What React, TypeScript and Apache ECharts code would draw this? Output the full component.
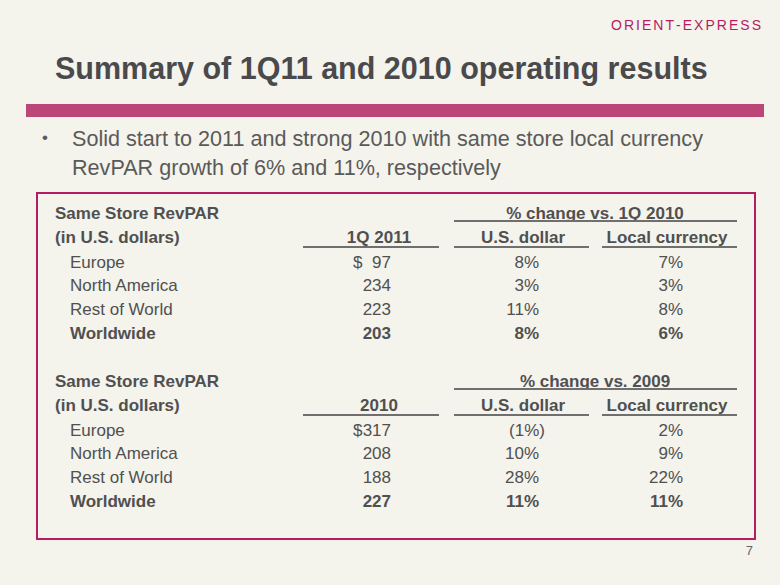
import React, { useEffect, useRef } from 'react';
import * as echarts from 'echarts';

// ---- data ----
const regions = ['Europe', 'North America', 'Rest of World', 'Worldwide'];
const revpar1Q2011 = [97, 234, 223, 203];
const usdChange1Q = [8, 3, 11, 8];
const localChange1Q = [7, 3, 8, 6];
const revpar2010 = [317, 208, 188, 227];
const usdChange2010 = [-1, 10, 28, 11];
const localChange2010 = [2, 9, 22, 11];

const titleText = 'Summary of 1Q11 and 2010 operating results';
const bulletLines = [
  'Solid start to 2011 and strong 2010 with same store local currency',
  'RevPAR growth of 6% and 11%, respectively',
];
const sectionLabels = ['Same Store RevPAR', '(in U.S. dollars)'];
const section1Headers = ['% change vs. 1Q 2010', '1Q 2011', 'U.S. dollar', 'Local currency'];
const section2Headers = ['% change vs. 2009', '2010', 'U.S. dollar', 'Local currency'];
const logoText = 'ORIENT-EXPRESS';
const pageNumber = '7';

// ---- styles ----
const FONT = '"Liberation Sans", Arial, Helvetica, sans-serif';
const BG = '#f4f3ec';
const TEXT = '#505050';
const MAGENTA = '#b51c63';
const BAR = '#bc4678';
const RULE = '#6f6f6f';

function measure(text: string, font: string): number {
  const ctx = document.createElement('canvas').getContext('2d');
  if (!ctx) return text.length * 9;
  ctx.font = font;
  return ctx.measureText(text).width;
}

function txt(text: string, x: number, y: number, o: any = {}) {
  const align = o.align || 'left';
  const valign = o.valign || 'middle';
  return {
    type: 'text',
    x,
    y,
    silent: true,
    style: {
      text,
      fontFamily: o.family || FONT,
      fontSize: o.size || 17,
      fontWeight: o.weight || 'normal',
      fill: o.color || TEXT,
      align,
      verticalAlign: valign,
      textAlign: align,
      textVerticalAlign: valign,
    },
  };
}

function line(x1: number, y1: number, x2: number, y2: number, color = RULE, w = 1.8) {
  return {
    type: 'line',
    silent: true,
    shape: { x1, y1, x2, y2 },
    style: { stroke: color, lineWidth: w },
  };
}

const fmtPct = (v: number) => (v < 0 ? `(${-v}%)` : `${v}%`);

function buildSection(
  baseY: number,
  headers: string[],
  values: number[],
  usd: number[],
  local: number[],
) {
  const els: any[] = [];
  const col1 = { l: 303, r: 439, c: 379, right: 391, dollar: 353 };
  const col2 = { l: 454, r: 589, c: 523, right: 539 };
  const col3 = { l: 602, r: 737, c: 667, right: 683 };

  els.push(txt(sectionLabels[0], 55, baseY, { weight: 'bold' }));
  els.push(txt(sectionLabels[1], 55, baseY + 24, { weight: 'bold' }));
  els.push(txt(headers[0], 595, baseY, { weight: 'bold', align: 'center' }));
  els.push(line(col2.l, baseY + 8, col3.r, baseY + 8));
  els.push(txt(headers[1], col1.c, baseY + 24, { weight: 'bold', align: 'center' }));
  els.push(txt(headers[2], col2.c, baseY + 24, { weight: 'bold', align: 'center' }));
  els.push(txt(headers[3], col3.c, baseY + 24, { weight: 'bold', align: 'center' }));
  [col1, col2, col3].forEach((c) => els.push(line(c.l, baseY + 34, c.r, baseY + 34)));

  regions.forEach((name, i) => {
    const y = baseY + 49 + i * 23.7;
    const bold = i === regions.length - 1;
    const w = bold ? 'bold' : 'normal';
    els.push(txt(name, 70, y, { weight: w }));
    if (i === 0) els.push(txt('$', col1.dollar, y, { weight: w }));
    els.push(txt(String(values[i]), col1.right, y, { weight: w, align: 'right' }));
    const u = fmtPct(usd[i]);
    els.push(txt(u, col2.right + (usd[i] < 0 ? 6 : 0), y, { weight: w, align: 'right' }));
    const l = fmtPct(local[i]);
    els.push(txt(l, col3.right + (local[i] < 0 ? 6 : 0), y, { weight: w, align: 'right' }));
  });
  return els;
}

function buildLogo() {
  const els: any[] = [];
  const size = 14;
  const font = `normal ${size}px ${FONT}`;
  const chars = logoText.split('');
  const widths = chars.map((ch) => measure(ch, font));
  const total = widths.reduce((a, b) => a + b, 0);
  const left = 611;
  const right = 761;
  const gap = (right - left - total) / (chars.length - 1);
  let x = left;
  chars.forEach((ch, i) => {
    els.push(txt(ch, x, 25, { size, color: MAGENTA, align: 'left' }));
    x += widths[i] + gap;
  });
  return els;
}

export default function App() {
  const ref = useRef<HTMLDivElement>(null);
  useEffect(() => {
    if (!ref.current) return;
    const chart = echarts.init(ref.current, undefined, { renderer: 'svg' });
    const elements: any[] = [
      ...buildLogo(),
      txt(titleText, 55, 68, { size: 30.5, weight: 'bold', color: '#4a4a4c' }),
      {
        type: 'rect',
        silent: true,
        shape: { x: 26, y: 104, width: 738, height: 13 },
        style: { fill: BAR },
      },
      txt('\u2022', 45, 137, { size: 17, color: '#5a5a5a', align: 'center' }),
      txt(bulletLines[0], 72, 138, { size: 21.6, color: '#5a5a5a' }),
      txt(bulletLines[1], 72, 167, { size: 21.6, color: '#5a5a5a' }),
      {
        type: 'rect',
        silent: true,
        shape: { x: 37, y: 193, width: 718, height: 346 },
        style: { fill: 'none', stroke: MAGENTA, lineWidth: 2 },
      },
      ...buildSection(213, section1Headers, revpar1Q2011, usdChange1Q, localChange1Q),
      ...buildSection(381, section2Headers, revpar2010, usdChange2010, localChange2010),
      txt(pageNumber, 753, 550, { size: 13, color: '#666666', align: 'right' }),
    ];
    chart.setOption({
      animation: false,
      backgroundColor: BG,
      graphic: { elements },
    });
    return () => chart.dispose();
  }, []);
  return (
    <div
      ref={ref}
      style={{ position: 'fixed', left: 0, top: 0, width: 780, height: 585 }}
    />
  );
}
